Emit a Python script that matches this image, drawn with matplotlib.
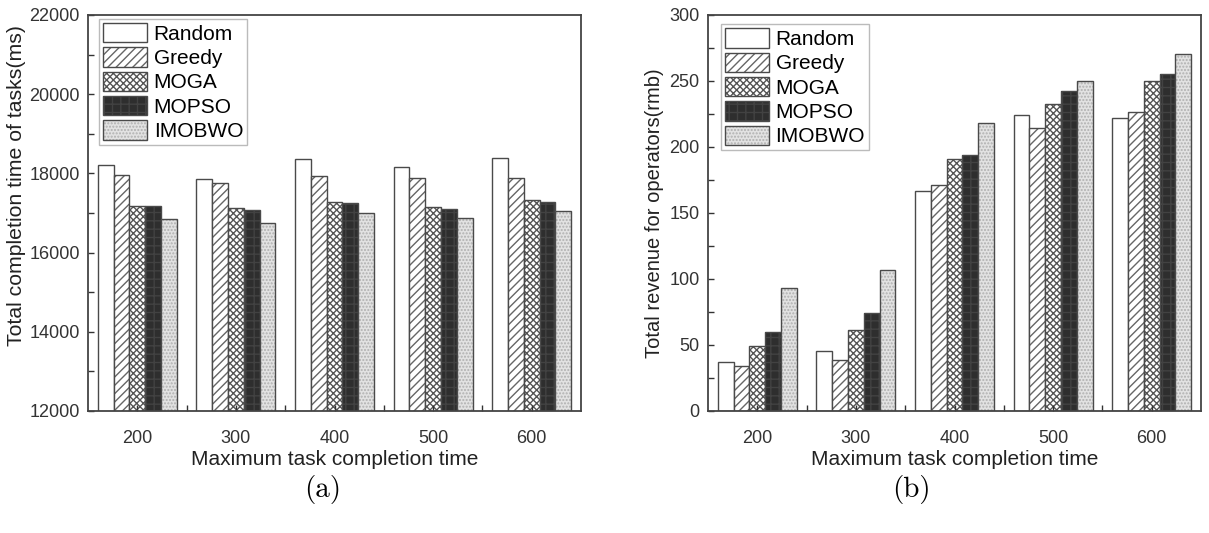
import matplotlib.pyplot as plt
import numpy as np
from matplotlib.ticker import MultipleLocator, FixedLocator

plt.rcParams['font.family'] = ['Liberation Sans', 'DejaVu Sans']

# данные
times = [200, 300, 400, 500, 600]
methods = ['Random', 'Greedy', 'MOGA', 'MOPSO', 'IMOBWO']

# (a) общее время выполнения задач, мс
t_random = [18205, 17851, 18364, 18170, 18389]
t_greedy = [17952, 17766, 17934, 17884, 17884]
t_moga = [17169, 17126, 17286, 17160, 17336]
t_mopso = [17175, 17067, 17261, 17093, 17290]
t_imobwo = [16848, 16747, 17000, 16882, 17051]

# (b) общий доход операторов, rmb
r_random = [37.1, 45.7, 166.4, 224.2, 221.7]
r_greedy = [34.1, 38.6, 171.5, 214.4, 226.8]
r_moga = [49.0, 61.4, 190.6, 232.3, 249.7]
r_mopso = [59.8, 74.2, 193.7, 242.7, 255.3]
r_imobwo = [93.2, 106.8, 217.9, 250.2, 270.2]

# стиль столбцов: заливка, штриховка, цвет штриховки
styles = [
    ('white', None, '#555555'),
    ('white', '////', '#666666'),
    ('white', 'xxxxx', '#555555'),
    ('#2e2e2e', '++', '#424242'),
    ('#e2e2e2', '.....', '#b0b0b0'),
]
edge = '#4a4a4a'
w = 16

fig = plt.figure(figsize=(12.09, 5.33), dpi=100)
ax1 = fig.add_axes([0.0728, 0.2289, 0.4078, 0.743])
ax2 = fig.add_axes([0.5856, 0.2289, 0.4078, 0.743])


def draw(ax, series, ylabel, ylabel_size, leg_xy):
    x = np.array(times)
    handles = []
    for k, vals in enumerate(series):
        fc, hatch, hc = styles[k]
        pos = x + (k - 2) * w
        b1 = ax.bar(pos, vals, w, color=fc, hatch=hatch, edgecolor=hc, linewidth=0)
        b2 = ax.bar(pos, vals, w, fill=False, edgecolor=edge, linewidth=1.0)
        handles.append((b1[0], b2[0]))
    ax.set_xlim(150, 650)
    ax.set_xticks(times)
    ax.xaxis.set_minor_locator(FixedLocator([250, 350, 450, 550]))
    ax.tick_params(which='both', direction='in', top=False, right=False,
                   labelsize=13, colors='#333333', length=4, width=1)
    ax.tick_params(axis='x', which='major', pad=14)
    ax.tick_params(axis='y', which='major', pad=6)
    for s in ax.spines.values():
        s.set_color('#444444')
        s.set_linewidth(1.3)
    ax.set_xlabel('Maximum task completion time', fontsize=15, color='#222222', labelpad=2)
    ax.set_ylabel(ylabel, fontsize=ylabel_size, color='#222222', labelpad=4)
    leg = ax.legend(handles, methods, loc='upper left', bbox_to_anchor=leg_xy,
                    fontsize=15, handlelength=2.1, handleheight=1.05,
                    handletextpad=0.33, labelspacing=0.17, borderpad=0.2,
                    borderaxespad=0, fancybox=False, framealpha=1)
    leg.get_frame().set_edgecolor('#bbbbbb')
    leg.get_frame().set_linewidth(1.0)


draw(ax1, [t_random, t_greedy, t_moga, t_mopso, t_imobwo],
     'Total completion time of tasks(ms)', 15.3, (0.022, 0.99))
ax1.set_ylim(12000, 22000)
ax1.yaxis.set_major_locator(MultipleLocator(2000))
ax1.yaxis.set_minor_locator(MultipleLocator(1000))
ax1.yaxis.set_label_coords(-0.125, 0.57)

draw(ax2, [r_random, r_greedy, r_moga, r_mopso, r_imobwo],
     'Total revenue for operators(rmb)', 14.5, (0.026, 0.977))
ax2.set_ylim(0, 300)
ax2.yaxis.set_major_locator(MultipleLocator(50))
ax2.yaxis.set_minor_locator(MultipleLocator(25))

fig.text(0.267, 0.081, '(a)', fontsize=21, family='cmr10', ha='center', va='center')
fig.text(0.754, 0.081, '(b)', fontsize=21, family='cmr10', ha='center', va='center')

fig.savefig('out.png', dpi=100)
